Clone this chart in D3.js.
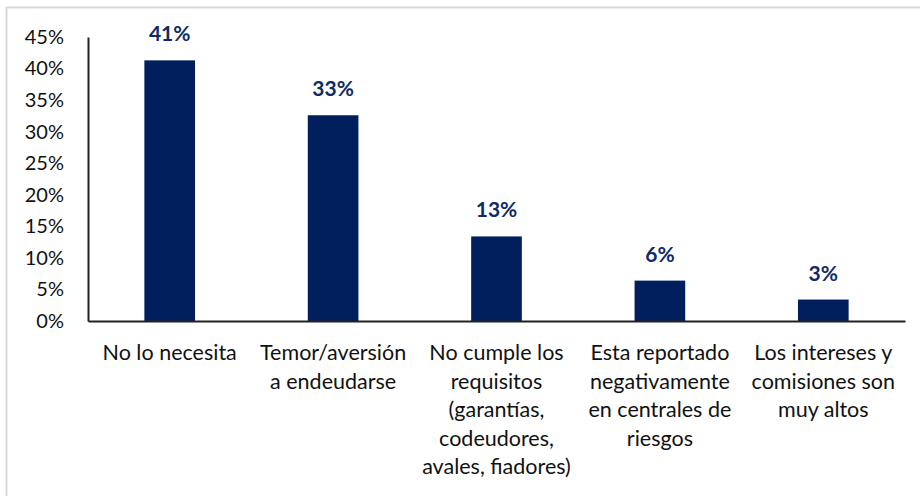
<!DOCTYPE html>
<html><head><meta charset="utf-8">
<script src="https://cdn.jsdelivr.net/npm/d3@7"></script>
<style>
html,body{margin:0;padding:0;background:#fff;}
text{font-family:Lato,"Open Sans",sans-serif;}
</style></head>
<body>
<svg id="c" width="920" height="496"></svg>
<script>
const categories = [
  ["No lo necesita"],
  ["Temor/aversión", "a endeudarse"],
  ["No cumple los", "requisitos", "(garantías,", "codeudores,", "avales, fiadores)"],
  ["Esta reportado", "negativamente", "en centrales de", "riesgos"],
  ["Los intereses y", "comisiones son", "muy altos"]
];
const values = [0.413, 0.326, 0.134, 0.064, 0.034];
const valueLabels = ["41%", "33%", "13%", "6%", "3%"];
const yTicks = [0, 0.05, 0.10, 0.15, 0.20, 0.25, 0.30, 0.35, 0.40, 0.45];

const svg = d3.select("#c");
// frame
svg.append("line").attr("x1",6.5).attr("x2",6.5).attr("y1",7).attr("y2",496).attr("stroke","#d9d9d9").attr("stroke-width",2);
svg.append("line").attr("x1",6).attr("x2",920).attr("y1",7.5).attr("y2",7.5).attr("stroke","#d9d9d9").attr("stroke-width",2);

const mLeft = 88, mRight = 905, mTop = 37, mBottom = 321;
const x = d3.scaleBand().domain(d3.range(categories.length)).range([mLeft, mRight]).paddingInner(0.69).paddingOuter(0.345);
const y = d3.scaleLinear().domain([0, 0.45]).range([mBottom, mTop]);

// y axis
const yAxis = svg.append("g").attr("transform", `translate(${mLeft},0)`)
  .call(d3.axisLeft(y).tickValues(yTicks).tickFormat(d3.format(".0%")).tickSize(0).tickPadding(24));
yAxis.select(".domain").attr("stroke","#222").attr("stroke-width",2);
yAxis.selectAll("text").attr("font-size",20).attr("fill","#111").style("font-family","Lato, sans-serif");

// bars
svg.append("g").selectAll("rect").data(values).join("rect")
  .attr("x",(d,i)=>x(i)).attr("width",x.bandwidth())
  .attr("y",d=>y(d)).attr("height",d=>mBottom-y(d))
  .attr("fill","#001f5c");

// value labels
svg.append("g").selectAll("text").data(values).join("text")
  .attr("x",(d,i)=>x(i)+x.bandwidth()/2).attr("y",d=>y(d)-19)
  .attr("text-anchor","middle").attr("font-size",21).attr("font-weight","bold")
  .attr("fill","#0f2a66").text((d,i)=>valueLabels[i]);

// x axis
const xAxis = svg.append("g").attr("transform",`translate(0,${mBottom})`)
  .call(d3.axisBottom(x).tickSize(0).tickFormat(""));
xAxis.select(".domain").attr("stroke","#222").attr("stroke-width",2);

// category labels
const cl = svg.append("g");
categories.forEach((lines,i)=>{
  const t = cl.append("text").attr("text-anchor","middle").attr("font-size",21.5).attr("fill","#111");
  lines.forEach((ln,j)=>{
    t.append("tspan").attr("x",x(i)+x.bandwidth()/2).attr("y",360+j*28.5).text(ln);
  });
});
</script>
</body></html>
